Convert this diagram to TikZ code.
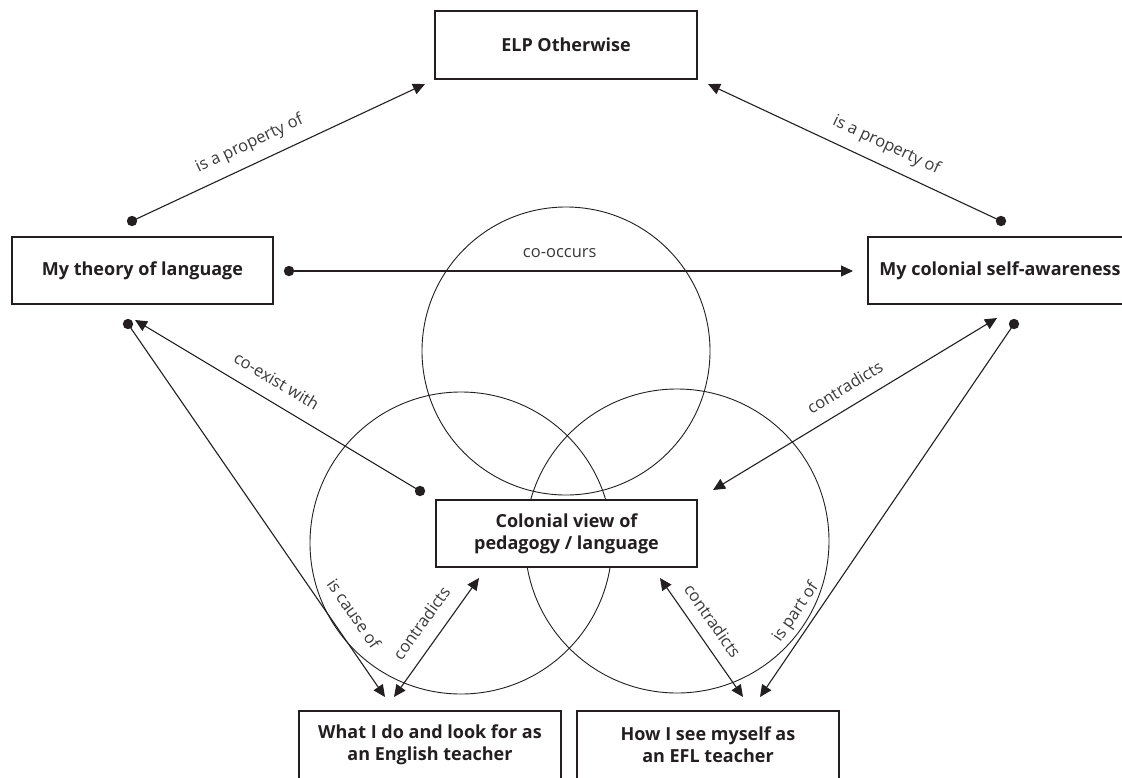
\documentclass[tikz,border=0pt]{standalone}
\usepackage{fontspec}
\setmainfont{Open Sans}
\usetikzlibrary{arrows.meta}
\definecolor{ink}{HTML}{231F20}
\definecolor{labc}{HTML}{3A3A3A}
\begin{document}
\begin{tikzpicture}[x=1pt,y=-1pt,
  box/.style={draw=ink, line width=1.1pt, minimum width=262pt, minimum height=68pt,
    align=center, font=\bfseries\fontsize{18}{22}\selectfont, text=ink, inner sep=0pt},
  conn/.style={draw=ink, line width=1.1pt},
  tip/.style={-{Triangle[length=12pt,width=11pt]}},
  ttip/.style={{Triangle[length=12pt,width=11pt]}-{Triangle[length=12pt,width=11pt]}},
  ring/.style={draw=ink, line width=0.9pt},
  lab/.style={font=\fontsize{16.5}{18}\selectfont, text=labc, sloped, inner sep=0pt,
    text depth=0pt}]
\clip (0,0) rectangle (1122,777);
\fill[white] (0,0) rectangle (1122,777);
% circles
\draw[ring] (566,351) circle[radius=144pt];
\draw[ring] (461,543) circle[radius=151pt];
\draw[ring] (677,541) circle[radius=152pt];
% boxes
\node[box, fill=white] (elp) at (566,45) {ELP Otherwise};
\node[box, minimum width=261pt, minimum height=67pt] (theory) at (142.5,270.5) {My theory of language};
\node[box, minimum width=264pt, minimum height=67pt] (self) at (1000,270.5) {My colonial self-awareness};
\node[box, fill=white, minimum width=261pt, minimum height=67pt] (view) at (566.5,533.5) {Colonial view of\\pedagogy / language};
\node[box, fill=white] (what) at (430,745) {What I do and look for as\\an English teacher};
\node[box, fill=white] (how) at (708,745) {How I see myself as\\an EFL teacher};
% connector end points
\coordinate (d1) at (132,221); \coordinate (t1) at (425,84);
\coordinate (d2) at (1001,221); \coordinate (t2) at (708,84);
\coordinate (d3) at (289,271); \coordinate (t3) at (853,271);
\coordinate (d4) at (420,491); \coordinate (t4) at (135,320);
\coordinate (d5) at (128,324); \coordinate (t5) at (385,697);
\coordinate (t6a) at (394,697); \coordinate (t6b) at (479,578);
\coordinate (t7a) at (660,578); \coordinate (t7b) at (743,697);
\coordinate (d8) at (1014,324); \coordinate (t8) at (760,697);
\coordinate (t9a) at (713,490); \coordinate (t9b) at (997,318);
% connectors
\draw[conn,tip] (d1) -- node[lab,above=15pt,pos=.43]{is a property of} (t1);
\draw[conn,tip] (d2) -- node[lab,above=15pt,pos=.42]{is a property of} (t2);
\draw[conn,tip] (d3) -- node[lab,above=13pt,pos=.48]{co-occurs} (t3);
\draw[conn,tip] (d4) -- node[lab,above=14pt,pos=.54]{co-exist with} (t4);
\draw[conn,tip] (d5) -- node[lab,above=15pt,pos=.81]{is cause of} (t5);
\draw[conn,ttip] (t6a) -- node[lab,above=14pt,pos=.52]{contradicts} (t6b);
\draw[conn,ttip] (t7a) -- node[lab,above=12pt,pos=.45]{contradicts} (t7b);
\draw[conn,tip] (d8) -- node[lab,above=13pt,pos=.8]{is part of} (t8);
\draw[conn,ttip] (t9a) -- node[lab,above=13pt,pos=.5]{contradicts} (t9b);
% dots
\foreach \p in {d1,d2,d3,d4,d5,d8} \fill[ink] (\p) circle[radius=5.2pt];
\end{tikzpicture}
\end{document}
